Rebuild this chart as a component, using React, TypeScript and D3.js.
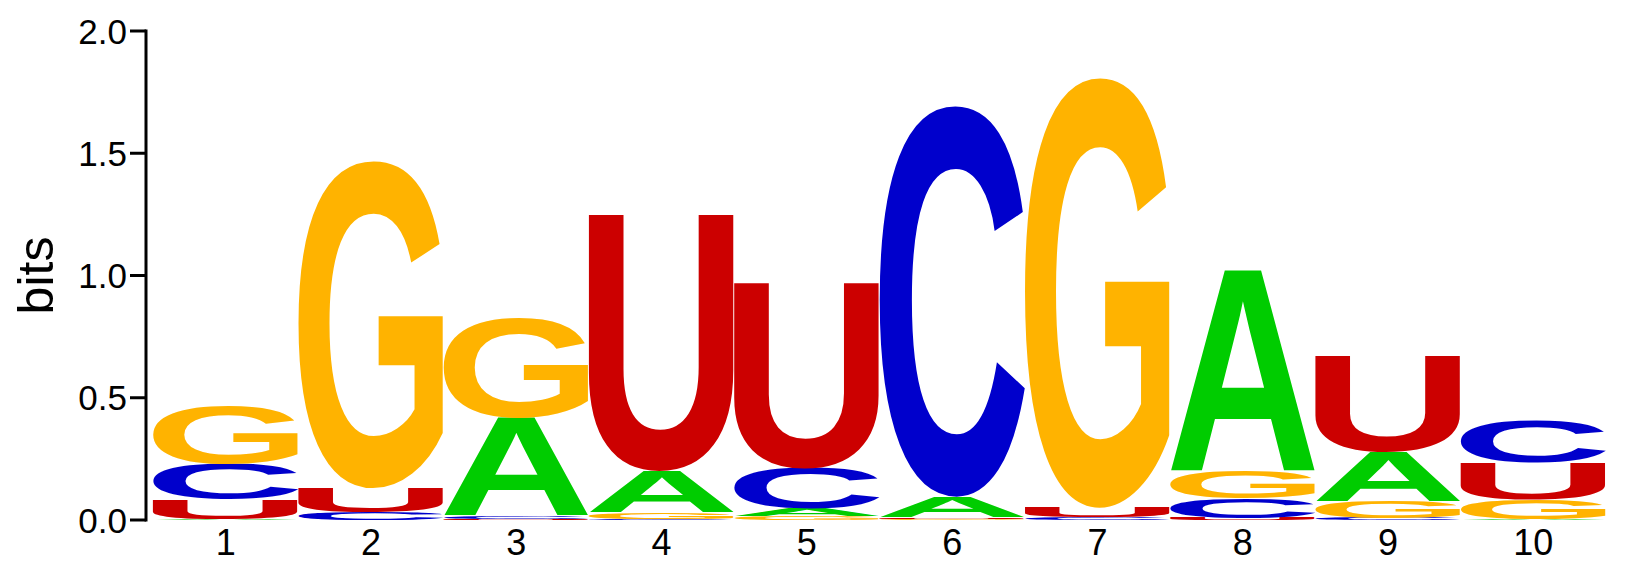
import React from 'react';
import * as d3 from 'd3';

const positions = ['1', '2', '3', '4', '5', '6', '7', '8', '9', '10'];
const letters = ['A', 'C', 'G', 'U'];
// information (bits) carried by each base at each position
const aBits = [0.003, 0, 0.4, 0.17, 0.03, 0.085, 0, 0.825, 0.2, 0.005];
const cBits = [0.145, 0.03, 0.012, 0.005, 0.165, 1.6, 0.01, 0.08, 0.008, 0.17];
const gBits = [0.235, 1.34, 0.41, 0.025, 0.015, 0.005, 1.76, 0.11, 0.07, 0.08];
const uBits = [0.08, 0.1, 0.005, 1.05, 0.76, 0.005, 0.04, 0.008, 0.395, 0.15];
const yTicks = [0, 0.5, 1, 1.5, 2];

const colors: Record<string, string> = { A: '#00cc00', C: '#0000cc', G: '#ffb300', U: '#cc0000' };

const W = 1630;
const H = 565;
const FONT = '"Liberation Sans", Arial, sans-serif';
const GLYPH_SIZE = 200;

// tight glyph boxes so each letter can be stretched into its cell
const measure = (() => {
  const canvas = document.createElement('canvas');
  const ctx = canvas.getContext('2d')!;
  ctx.font = `bold ${GLYPH_SIZE}px ${FONT}`;
  const out: Record<string, { left: number; asc: number; w: number; h: number }> = {};
  letters.forEach(l => {
    const m = ctx.measureText(l);
    out[l] = {
      left: m.actualBoundingBoxLeft,
      asc: m.actualBoundingBoxAscent,
      w: m.actualBoundingBoxLeft + m.actualBoundingBoxRight,
      h: m.actualBoundingBoxAscent + m.actualBoundingBoxDescent,
    };
  });
  return out;
})();

const App: React.FC = () => {
  const x = d3.scaleBand<string>().domain(positions).range([153, 1606]).padding(0);
  const y = d3.scaleLinear().domain([0, 2]).range([520, 31]);
  const axisX = 146;

  const series: Record<string, number[]> = { A: aBits, C: cBits, G: gBits, U: uBits };

  const glyphs: React.ReactNode[] = [];
  positions.forEach((p, i) => {
    const stack = letters
      .map(l => ({ l, v: series[l][i] }))
      .filter(d => d.v > 0)
      .sort((a, b) => a.v - b.v);
    let base = 0;
    stack.forEach(d => {
      const top = base + d.v;
      const rx = x(p)!;
      const rw = x.bandwidth();
      const ry = y(top);
      const rh = y(base) - y(top);
      const g = measure[d.l];
      const sx = rw / g.w;
      const sy = rh / g.h;
      glyphs.push(
        <text
          key={`${p}-${d.l}`}
          transform={`translate(${rx},${ry}) scale(${sx},${sy}) translate(${g.left},${g.asc})`}
          fontFamily={FONT}
          fontWeight="bold"
          fontSize={GLYPH_SIZE}
          fill={colors[d.l]}
        >
          {d.l}
        </text>
      );
      base = top;
    });
  });

  const fmt = d3.format('.1f');

  return (
    <svg width={W} height={H} style={{ position: 'absolute', left: 0, top: 0 }}>
      <rect width={W} height={H} fill="white" />
      {glyphs}
      {/* y axis */}
      <line x1={axisX} x2={axisX} y1={y(2) - 1.5} y2={y(0) + 1.5} stroke="black" strokeWidth={3} />
      {yTicks.map(t => (
        <g key={t}>
          <line x1={axisX - 16} x2={axisX} y1={y(t)} y2={y(t)} stroke="black" strokeWidth={3} />
          <text
            x={127}
            y={y(t)}
            dy="0.36em"
            textAnchor="end"
            fontFamily={FONT}
            fontSize={35}
          >
            {fmt(t)}
          </text>
        </g>
      ))}
      <text
        transform="rotate(-90)"
        x={-y(1)}
        y={53}
        textAnchor="middle"
        fontFamily={FONT}
        fontSize={50}
      >
        bits
      </text>
      {/* position labels */}
      {positions.map(p => (
        <text
          key={p}
          x={x(p)! + x.bandwidth() / 2}
          y={555}
          textAnchor="middle"
          fontFamily={FONT}
          fontSize={36}
        >
          {p}
        </text>
      ))}
    </svg>
  );
};

export default App;
